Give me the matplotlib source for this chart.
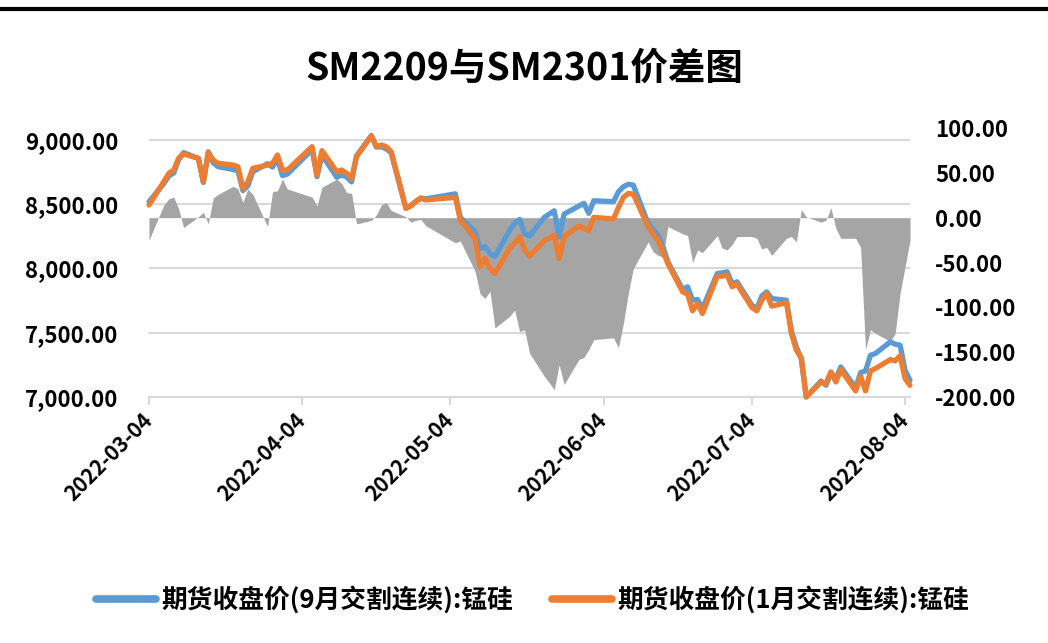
import pandas as pd
import matplotlib
matplotlib.use("Agg")
import matplotlib.pyplot as plt
import matplotlib.dates as mdates
from matplotlib.ticker import FuncFormatter, FixedLocator
from matplotlib.lines import Line2D

plt.rcParams['font.family'] = ['Noto Sans CJK SC', 'DejaVu Sans']
plt.rcParams['font.weight'] = 'bold'

# trading days
dates = [
    '2022-03-04', '2022-03-07', '2022-03-08', '2022-03-09', '2022-03-10', '2022-03-11',
    '2022-03-14', '2022-03-15', '2022-03-16', '2022-03-17', '2022-03-18',
    '2022-03-21', '2022-03-22', '2022-03-23', '2022-03-24', '2022-03-25',
    '2022-03-28', '2022-03-29', '2022-03-30', '2022-03-31', '2022-04-01',
    '2022-04-06', '2022-04-07', '2022-04-08',
    '2022-04-11', '2022-04-12', '2022-04-13', '2022-04-14', '2022-04-15',
    '2022-04-18', '2022-04-19', '2022-04-20', '2022-04-21', '2022-04-22',
    '2022-04-25', '2022-04-26', '2022-04-27', '2022-04-28', '2022-04-29',
    '2022-05-05', '2022-05-06',
    '2022-05-09', '2022-05-10', '2022-05-11', '2022-05-12', '2022-05-13',
    '2022-05-16', '2022-05-17', '2022-05-18', '2022-05-19', '2022-05-20',
    '2022-05-23', '2022-05-24', '2022-05-25', '2022-05-26', '2022-05-27',
    '2022-05-30', '2022-05-31', '2022-06-01', '2022-06-02',
    '2022-06-06', '2022-06-07', '2022-06-08', '2022-06-09', '2022-06-10',
    '2022-06-13', '2022-06-14', '2022-06-15', '2022-06-16', '2022-06-17',
    '2022-06-20', '2022-06-21', '2022-06-22', '2022-06-23', '2022-06-24',
    '2022-06-27', '2022-06-28', '2022-06-29', '2022-06-30', '2022-07-01',
    '2022-07-04', '2022-07-05', '2022-07-06', '2022-07-07', '2022-07-08',
    '2022-07-11', '2022-07-12', '2022-07-13', '2022-07-14', '2022-07-15',
    '2022-07-18', '2022-07-19', '2022-07-20', '2022-07-21', '2022-07-22',
    '2022-07-25', '2022-07-26', '2022-07-27', '2022-07-28', '2022-07-29',
    '2022-08-01', '2022-08-02', '2022-08-03', '2022-08-04', '2022-08-05',
]

# 期货收盘价(9月交割连续)
sm2209 = [
    8519, 8661, 8719, 8743, 8847, 8902,
    8856, 8669, 8908, 8822, 8792,
    8770, 8760, 8606, 8643, 8753,
    8815, 8789, 8853, 8723, 8734,
    8925, 8714, 8883,
    8710, 8728, 8712, 8674, 8877,
    9034, 8945, 8947, 8931, 8901,
    8467, 8491, 8523, 8548, 8542,
    8581, 8398,
    8286, 8156, 8169, 8117, 8091,
    8299, 8351, 8382, 8273, 8252,
    8398, 8423, 8449, 8247, 8423,
    8486, 8507, 8429, 8527,
    8520, 8597, 8636, 8655, 8649,
    8351, 8304, 8260, 8169, 8052,
    7837, 7857, 7753, 7759, 7688,
    7961, 7966, 7974, 7883, 7896,
    7714, 7688, 7785, 7818, 7766,
    7753, 7515, 7390, 7296, 7000,
    7125, 7091, 7187, 7143, 7234,
    7070, 7190, 7203, 7325, 7338,
    7429, 7411, 7403, 7208, 7130,
]

# 期货收盘价(1月交割连续)
sm2301 = [
    8494, 8675, 8740, 8766, 8857, 8891,
    8857, 8675, 8901, 8844, 8818,
    8805, 8792, 8623, 8675, 8779,
    8805, 8818, 8883, 8766, 8766,
    8948, 8727, 8917,
    8753, 8766, 8740, 8701, 8870,
    9031, 8948, 8961, 8948, 8909,
    8468, 8486, 8520, 8546, 8533,
    8553, 8377,
    8234, 8013, 8078, 8000, 7961,
    8156, 8200, 8247, 8143, 8096,
    8216, 8234, 8260, 8078, 8247,
    8330, 8312, 8294, 8398,
    8385, 8475, 8553, 8584, 8579,
    8325, 8273, 8221, 8130, 8039,
    7818, 7800, 7670, 7727, 7650,
    7940, 7940, 7948, 7857, 7878,
    7696, 7670, 7753, 7805, 7707,
    7733, 7494, 7364, 7307, 7000,
    7117, 7104, 7195, 7117, 7213,
    7047, 7161, 7047, 7203, 7221,
    7291, 7281, 7322, 7143, 7091,
]

# 价差 (right axis)
spread = [
    -25, 14, 21, 23, 10, -11,
    1, 6, -7, 22, 26,
    35, 32, 17, 32, 26,
    -10, 29, 30, 43, 32,
    23, 13, 34,
    43, 38, 28, 27, -7,
    -3, 3, 14, 17, 8,
    1, -5, -3, -2, -9,
    -28, -26,
    -60, -85, -90, -82, -123,
    -110, -103, -127, -125, -151,
    -177, -184, -192, -164, -186,
    -158, -156, -147, -136,
    -134, -145, -118, -84, -57,
    -27, -38, -42, -44, -10,
    -18, -20, -50, -36, -39,
    -20, -34, -36, -30, -21,
    -21, -23, -35, -33, -42,
    -23, -21, -27, 9, 1,
    -5, -3, 11, -12, -23,
    -23, -33, -147, -125, -129,
    -138, -129, -84, -55, -25,
]

tick_dates = ['2022-03-04', '2022-04-04', '2022-05-04', '2022-06-04', '2022-07-04', '2022-08-04']
left_ticks = [7000, 7500, 8000, 8500, 9000]
right_ticks = [-200, -150, -100, -50, 0, 50, 100]

title = 'SM2209与SM2301价差图'
label_9 = '期货收盘价(9月交割连续):锰硅'
label_1 = '期货收盘价(1月交割连续):锰硅'

x = pd.to_datetime(dates)

fig = plt.figure(figsize=(10.48, 6.43), dpi=100)
ax = fig.add_axes([149 / 1048, 1 - 397 / 643, 761 / 1048, 269 / 643])
ax2 = ax.twinx()
ax3 = ax.twinx()

grid_c = '#d9d9d9'

# left axis: grid + labels
ax.set_ylim(7000, 9093)
ax.yaxis.set_major_locator(FixedLocator(left_ticks))
ax.yaxis.set_major_formatter(FuncFormatter(lambda v, p: f'{v:,.2f}'))
ax.grid(axis='y', color=grid_c, lw=1.5)
ax.tick_params(axis='y', length=0, pad=22, labelsize=16)
for s in ['top', 'right', 'left']:
    ax.spines[s].set_visible(False)
ax.spines['bottom'].set_color(grid_c)
ax.spines['bottom'].set_linewidth(1.5)

# spread area on right axis
ax2.fill_between(x, spread, 0, color='#a5a5a5', lw=0)
ax2.set_ylim(-200, 100)
ax2.yaxis.set_major_locator(FixedLocator(right_ticks))
ax2.yaxis.set_major_formatter(FuncFormatter(lambda v, p: f'{v:.2f}'))
ax2.tick_params(axis='y', length=0, pad=18, labelsize=16)
for s in ax2.spines.values():
    s.set_visible(False)

# price lines on top
ax3.plot(x, sm2209, color='#5b9bd5', lw=3.8, solid_capstyle='round', solid_joinstyle='round',
         clip_on=False, label=label_9)
ax3.plot(x, sm2301, color='#ed7d31', lw=3.8, solid_capstyle='round', solid_joinstyle='round',
         clip_on=False, label=label_1)
ax3.set_ylim(ax.get_ylim())
ax3.yaxis.set_visible(False)
for s in ax3.spines.values():
    s.set_visible(False)

ax.set_xlim(pd.Timestamp('2022-03-04'), pd.Timestamp('2022-08-05'))
ax.xaxis.set_major_locator(FixedLocator(mdates.date2num(pd.to_datetime(tick_dates))))
ax.xaxis.set_major_formatter(mdates.DateFormatter('%Y-%m-%d'))
ax.tick_params(axis='x', length=6, width=1.5, color=grid_c, pad=8, labelsize=15)
for lab in ax.get_xticklabels():
    lab.set_rotation(45)
    lab.set_ha('right')
    lab.set_va('center')
    lab.set_rotation_mode('anchor')

fig.text(0.5, 1 - 68 / 643, title, ha='center', va='center', fontsize=27, fontweight='bold')

fig.legend(handles=[Line2D([], [], color='#5b9bd5', lw=5.5, solid_capstyle='round'),
                    Line2D([], [], color='#ed7d31', lw=5.5, solid_capstyle='round')],
           labels=[label_9, label_1], loc='center', bbox_to_anchor=(0.508, 1 - 600 / 643),
           ncol=2, frameon=False, fontsize=18.5, handlelength=2.35, handletextpad=0.2,
           columnspacing=1.5)

# top border of the chart frame
fig.add_artist(Line2D([0, 1], [1 - 9 / 643] * 2, color='black', lw=3, transform=fig.transFigure))

fig.savefig('out.png', dpi=100)
